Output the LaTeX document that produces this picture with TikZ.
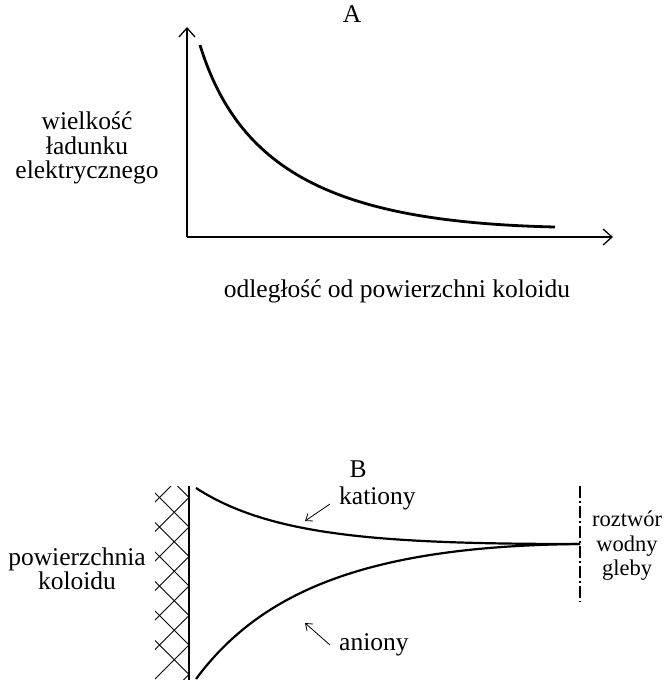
\documentclass[tikz,border=0pt]{standalone}
\usepackage{fontspec}
\setmainfont{Liberation Serif}
\usepackage{tikz}
\usetikzlibrary{arrows.meta,positioning}

\begin{document}
\begin{tikzpicture}[x=1pt,y=-1pt, font=\fontsize{25.5}{24.5}\selectfont,
    axis/.style={line width=1.3pt,-{Straight Barb[length=9pt,width=16pt,line width=1.3pt]}},
    curve/.style={line width=2.2pt},
    pointer/.style={line width=0.8pt,-{Straight Barb[length=6pt,width=9pt]}},
    lbl/.style={align=center,inner sep=0pt}]
    \useasboundingbox (0,0) rectangle (664,680);

    % Part A: charge vs distance
    \coordinate (orig) at (187,237);
    \coordinate (ytip) at (187,27);
    \coordinate (xtip) at (613,237);
    \draw[axis] (orig) -- (ytip);
    \draw[axis] (orig) -- (xtip);
    \draw[curve, line width=2.8pt] (200,45) .. controls (240,175) and (340,222) .. (555,227);
    \node[lbl] (titA) at (352,14) {A};
    \node[lbl] (ylab) at (87,148) {wielkość\\ładunku\\elektrycznego};
    \node[lbl] (xlab) at (397,291) {odległość od powierzchni koloidu};

    % Part B: ions near the colloid surface
    \node[lbl] (titB) at (358,469) {B};
    \begin{scope}
      \clip (155,486) rectangle (189,680);
      \foreach \k in {0,...,7} {
        \draw[line width=0.9pt] (189,468+29.5*\k) -- ++(-40,40);
        \draw[line width=0.9pt] (189,468+29.5*\k) -- ++(-40,-40);
      }
    \end{scope}
    \draw[line width=2pt] (189,486) -- (189,680);
    \coordinate (meet) at (580,544);
    \draw[curve] (196,488) .. controls (270,536) and (380,544) .. (meet);
    \draw[curve] (196,679) .. controls (262,590) and (370,546) .. (meet);
    \draw[line width=1.3pt, dash pattern=on 12pt off 3pt on 2pt off 3pt] (580,486) -- (580,602);

    \node[lbl, anchor=west] (kat) at (339,498) {kationy};
    \node[lbl, anchor=west] (ani) at (339,645) {aniony};
    \draw[pointer] (kat.west) ++(-9,6) -- ++(-25,17);
    \draw[pointer] (ani.west) ++(-9,0) -- ++(-25,-22);

    \node[lbl] (pow) at (77,569) {powierzchnia\\koloidu};
    \node[lbl, font=\fontsize{22.5}{24.5}\selectfont] (roz) at (627,546) {roztwór\\wodny\\gleby};
\end{tikzpicture}
\end{document}
